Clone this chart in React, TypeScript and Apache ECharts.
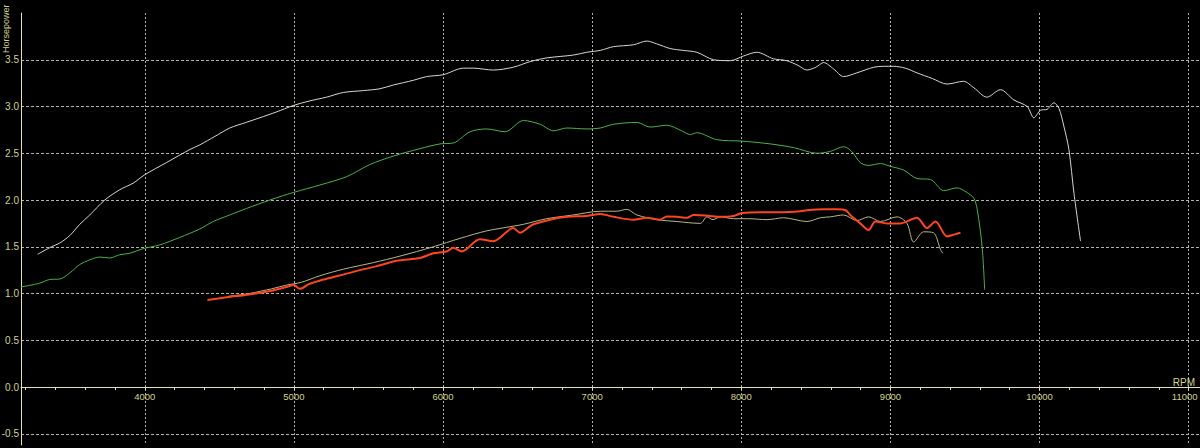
import React, { useEffect, useRef } from "react";
import * as echarts from "echarts";

// [rpm, horsepower]
const whiteRun: [number, number][] = [
  [3282, 1.42], [3374, 1.5], [3430, 1.54], [3497, 1.62], [3564, 1.74], [3631, 1.84], [3732, 2.0],
  [3832, 2.11], [3922, 2.18], [4000, 2.27], [4145, 2.4], [4302, 2.54], [4369, 2.59], [4470, 2.68],
  [4570, 2.77], [4680, 2.83], [4772, 2.88], [4880, 2.94], [4995, 3.01], [5107, 3.06], [5219, 3.1],
  [5331, 3.15], [5465, 3.17], [5577, 3.19], [5667, 3.23], [5801, 3.28], [5890, 3.32], [6002, 3.34],
  [6136, 3.41], [6203, 3.41], [6337, 3.39], [6471, 3.42], [6584, 3.48], [6696, 3.52], [6874, 3.55],
  [6964, 3.58], [7054, 3.6], [7143, 3.64], [7277, 3.66], [7367, 3.7], [7433, 3.67], [7523, 3.62],
  [7610, 3.6], [7702, 3.58], [7814, 3.5], [7926, 3.49], [8015, 3.54], [8104, 3.58], [8216, 3.51],
  [8305, 3.49], [8380, 3.44], [8440, 3.39], [8500, 3.42], [8552, 3.47], [8620, 3.4], [8686, 3.32],
  [8775, 3.36], [8888, 3.42], [8955, 3.43], [9022, 3.43], [9100, 3.41], [9178, 3.36], [9280, 3.3],
  [9380, 3.24], [9490, 3.27], [9560, 3.2], [9647, 3.1], [9738, 3.18], [9828, 3.07], [9917, 3.0],
  [9962, 2.88], [10007, 2.96], [10051, 2.97], [10096, 3.04], [10130, 2.98], [10163, 2.79],
  [10197, 2.54], [10231, 2.07], [10275, 1.56],
];

const greenRun: [number, number][] = [
  [3170, 1.07], [3295, 1.11], [3362, 1.15], [3430, 1.155], [3497, 1.22], [3564, 1.31], [3631, 1.36],
  [3698, 1.39], [3765, 1.38], [3832, 1.415], [3899, 1.43], [3989, 1.48], [4101, 1.52], [4235, 1.6],
  [4369, 1.69], [4459, 1.77], [4570, 1.84], [4683, 1.91], [4839, 2.0], [4995, 2.08], [5174, 2.16],
  [5354, 2.25], [5510, 2.38], [5667, 2.47], [5846, 2.55], [5980, 2.6], [6069, 2.61], [6181, 2.73],
  [6293, 2.76], [6416, 2.73], [6539, 2.85], [6651, 2.81], [6740, 2.74], [6830, 2.77], [6964, 2.76],
  [7054, 2.77], [7143, 2.81], [7300, 2.83], [7389, 2.78], [7501, 2.8], [7600, 2.74], [7658, 2.7],
  [7702, 2.72], [7836, 2.645], [8004, 2.63], [8195, 2.6], [8351, 2.56], [8508, 2.5], [8597, 2.52],
  [8686, 2.57], [8740, 2.52], [8798, 2.4], [8850, 2.37], [8933, 2.39], [9000, 2.36], [9089, 2.32],
  [9178, 2.23], [9268, 2.22], [9358, 2.1], [9447, 2.13], [9514, 2.08], [9559, 2.02], [9582, 1.9],
  [9615, 1.5], [9632, 1.04],
];

const khakiRun: [number, number][] = [
  [4560, 0.97], [4700, 1.0], [4850, 1.05], [4950, 1.09], [5050, 1.12], [5174, 1.19], [5331, 1.26],
  [5532, 1.33], [5711, 1.4], [5935, 1.5], [6114, 1.59], [6293, 1.67], [6471, 1.72], [6539, 1.74],
  [6695, 1.8], [6874, 1.84], [7054, 1.88], [7165, 1.88], [7232, 1.9], [7300, 1.84], [7434, 1.79],
  [7568, 1.77], [7725, 1.75], [7770, 1.82], [7810, 1.79], [7860, 1.82], [7948, 1.8], [8050, 1.8],
  [8172, 1.79], [8284, 1.81], [8440, 1.77], [8530, 1.81], [8597, 1.82], [8686, 1.84], [8775, 1.78],
  [8854, 1.82], [8933, 1.77], [9044, 1.82], [9111, 1.75], [9156, 1.55], [9223, 1.66], [9289, 1.65],
  [9336, 1.47], [9352, 1.43],
];

const redRun: [number, number][] = [
  [4420, 0.93], [4550, 0.96], [4700, 0.99], [4850, 1.03], [4950, 1.07], [5000, 1.09], [5040, 1.05],
  [5100, 1.1], [5200, 1.15], [5300, 1.19], [5443, 1.25], [5550, 1.29], [5689, 1.35], [5846, 1.38],
  [5935, 1.43], [6024, 1.45], [6069, 1.49], [6125, 1.45], [6248, 1.58], [6337, 1.56], [6471, 1.7],
  [6516, 1.65], [6584, 1.72], [6606, 1.74], [6718, 1.79], [6830, 1.82], [6964, 1.83], [7054, 1.85],
  [7143, 1.82], [7277, 1.79], [7367, 1.81], [7456, 1.79], [7501, 1.825], [7568, 1.82], [7635, 1.81],
  [7680, 1.84], [7792, 1.83], [7836, 1.82], [7948, 1.83], [8004, 1.86], [8128, 1.87], [8262, 1.87],
  [8396, 1.88], [8440, 1.89], [8552, 1.9], [8641, 1.9], [8700, 1.89], [8731, 1.84], [8798, 1.75],
  [8854, 1.68], [8899, 1.77], [8977, 1.75], [9067, 1.75], [9178, 1.81], [9245, 1.7], [9302, 1.77],
  [9380, 1.61], [9425, 1.63], [9470, 1.65],
];

const xAxisTitle = "RPM";
const yAxisTitle = "Horsepower";

const TEXT = "#d2d296";
const AXIS = "#e2e2b4";
const GRID = "#b4b4a8";
const FONT = "'Liberation Sans', Arial, sans-serif";

const X_MIN = 3170;
const X_MAX = 11076;
const Y_MIN = -0.62;
const Y_MAX = 4.0;
const GRID_TOP = 13;
const GRID_BOTTOM = 3;
const CHART_H = 448;

export default function App() {
  const ref = useRef<HTMLDivElement>(null);
  useEffect(() => {
    const chart = echarts.init(ref.current!, null, { renderer: "svg" });
    const line = (name: string, data: [number, number][], color: string, width: number) => ({
      name,
      type: "line",
      data,
      smooth: 0.3,
      symbol: "none",
      showSymbol: false,
      lineStyle: { color, width },
      itemStyle: { color },
    });
    // move the x axis up to the zero line of the y axis
    const plotH = CHART_H - GRID_TOP - GRID_BOTTOM;
    const zeroOffset = -plotH * (0 - Y_MIN) / (Y_MAX - Y_MIN);
    chart.setOption({
      animation: false,
      backgroundColor: "#000",
      grid: { left: 21, right: 0, top: GRID_TOP, bottom: GRID_BOTTOM, containLabel: false, outerBoundsMode: "none" },
      xAxis: {
        type: "value",
        min: X_MIN,
        max: X_MAX,
        splitNumber: 8,
        position: "bottom",
        offset: zeroOffset,
        name: xAxisTitle,
        nameLocation: "end",
        nameGap: -5,
        nameTextStyle: { color: TEXT, fontSize: 10, fontFamily: FONT, align: "right", verticalAlign: "bottom" },
        axisLine: { onZero: false, lineStyle: { color: AXIS, width: 1 } },
        axisTick: { show: true, length: 3, lineStyle: { color: AXIS } },
        minorTick: { show: true, splitNumber: 5, length: 3, lineStyle: { color: AXIS } },
        axisLabel: {
          color: TEXT,
          fontSize: 9.5,
          fontFamily: FONT,
          margin: 4,
          showMinLabel: false,
          showMaxLabel: false,
          formatter: (v: number) => {
            const s = String(Math.round(v));
            // the last whole-thousand label sits at the right edge: nudge it inward
            return v + 1000 > X_MAX ? `{edge|${s}}` : s;
          },
          rich: {
            edge: { color: TEXT, fontSize: 9.5, fontFamily: FONT, padding: [0, 8, 0, 0] },
          },
        },
        splitLine: { show: true, showMinLine: false, showMaxLine: false, lineStyle: { color: GRID, type: [2, 2], width: 1 } },
      },
      yAxis: {
        type: "value",
        min: Y_MIN,
        max: Y_MAX,
        splitNumber: 9,
        axisLine: { show: true, onZero: false, lineStyle: { color: AXIS, width: 1 } },
        axisTick: { show: false },
        axisLabel: {
          color: TEXT,
          fontSize: 10,
          fontFamily: FONT,
          margin: 2,
          showMinLabel: false,
          showMaxLabel: false,
          formatter: (v: number) => v.toFixed(1),
        },
        splitLine: { show: true, showMinLine: false, showMaxLine: false, lineStyle: { color: GRID, type: [3, 2], width: 1 } },
      },
      graphic: [
        {
          type: "text",
          x: 6,
          y: 53,
          rotation: Math.PI / 2,
          style: { text: yAxisTitle, fill: TEXT, fontSize: 9, fontFamily: FONT, align: "left", verticalAlign: "middle" },
        },
      ],
      series: [
        line("Run 1", whiteRun, "#d6d6d0", 1),
        line("Run 2", greenRun, "#4cb24a", 1),
        line("Run 3", khakiRun, "#b6b68e", 1),
        line("Run 4", redRun, "#ff4420", 2),
      ],
    });
    return () => chart.dispose();
  }, []);
  return <div ref={ref} style={{ position: "absolute", left: 0, top: 0, width: 1200, height: 448, background: "#000" }} />;
}
